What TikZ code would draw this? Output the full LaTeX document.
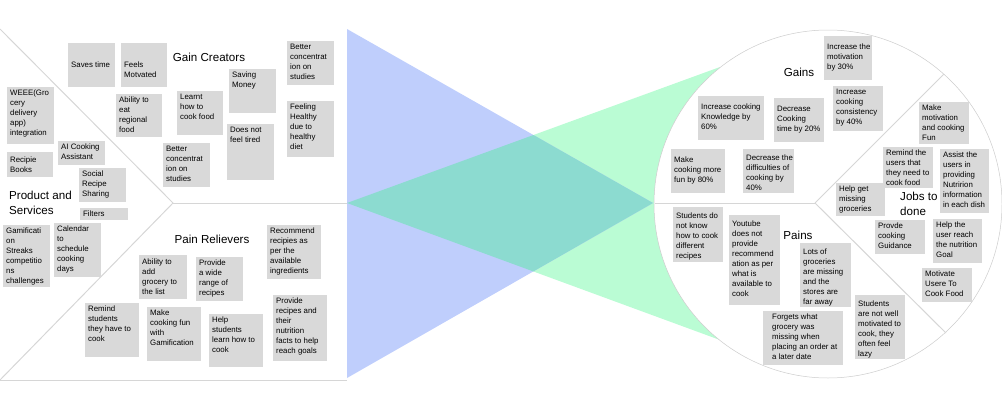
\documentclass[tikz,border=0pt]{standalone}
\usepackage{fontspec}
\setmainfont{Liberation Sans}
\usepackage{tikz}
\usetikzlibrary{positioning}
\definecolor{notegray}{HTML}{D9D9D9}
\definecolor{rulegray}{HTML}{D6D6D6}
\definecolor{vpblue}{HTML}{BFCEFC}
\definecolor{vpgreen}{HTML}{BAFCD4}
\definecolor{vpteal}{HTML}{8CDBD0}

\tikzset{
  notetext/.style={anchor=north west, align=left, inner sep=3pt,
    font=\fontsize{7.85}{10}\selectfont},
  heading/.style={font=\fontsize{11.6}{15}\selectfont, align=left},
  divider/.style={rulegray, line width=1pt},
}
% sticky note: [text options]{name}{x1}{y1}{x2}{y2}{text}
\newcommand{\sticky}[7][]{%
  \fill[notegray] (#3,#4) rectangle (#5,#6);
  \node[notetext,#1] (#2) at (#3,#4) {#7};}

\begin{document}
\begin{tikzpicture}[x=1pt, y=-1pt]
        \useasboundingbox (0,0) rectangle (1002,407);
        % Fit triangles
        \coordinate (btop) at (347,29);
        \coordinate (bbot) at (347,378);
        \coordinate (btip) at (653,203);
        \coordinate (gtip) at (347,203);
        \coordinate (gtop) at (720,67);
        \coordinate (gbot) at (720,340);
        \fill[vpgreen] (gtip) -- (gtop) -- (gbot) -- cycle;
        \fill[vpblue] (btop) -- (btip) -- (bbot) -- cycle;
        \fill[vpteal] (gtip)
          -- (intersection of btop--btip and gtip--gtop)
          -- (btip)
          -- (intersection of bbot--btip and gtip--gbot) -- cycle;
        % Customer profile circle
        \draw[gray!40, line width=0.5pt, fill=white] (828,204) circle[radius=174pt];
        \draw[divider] (655,203) -- (815,203);
        \draw[divider] (815,203) -- (944,74);
        \draw[divider] (815,203) -- (946,333);
        % Value map square
        \draw[divider] (0,29) -- (173,203) -- (0,380);
        \draw[divider] (173,203) -- (347,203);
        \draw[divider] (0,380) -- (347,380);
        % Headings
        \node[heading] (gaincreators) at (209,57) {Gain Creators};
        \node[heading] (painrelievers) at (212,239) {Pain Relievers};
        \node[heading, anchor=west, inner sep=0pt] (products) at (9,203) {Product and\\Services};
        \node[heading] (gains) at (799,72) {Gains};
        \node[heading] (pains) at (798,235) {Pains};
        % Gain creators
        \sticky[yshift=-16]{savestime}{68}{43}{115}{87}{Saves time}
        \sticky[yshift=-16]{motivated}{121}{43}{167}{87}{Feels\\Motvated}
        \sticky{concentrateA}{287}{41}{334}{85}{Better\\concentrat\\ion on\\studies}
        \sticky{savemoney}{229}{69}{276}{113}{Saving\\Money}
        \sticky{regional}{116}{94}{162}{137}{Ability to\\eat\\regional\\food}
        \sticky{learnt}{177}{91}{223}{135}{Learnt\\how to\\cook food}
        \sticky{nottired}{227}{124}{274}{180}{Does not\\feel tired}
        \sticky{healthy}{287}{101}{334}{157}{Feeling\\Healthy\\due to\\healthy\\diet}
        \sticky{concentrateB}{163}{143}{210}{187}{Better\\concentrat\\ion on\\studies}
        % Products and services
        \sticky{weee}{7}{87}{54}{144}{WEEE(Gro\\cery\\delivery\\app)\\integration}
        \sticky{aiassist}{58}{141}{105}{165}{AI Cooking\\Assistant}
        \sticky[yshift=-1.5]{books}{7}{152}{53}{177}{Recipie\\Books}
        \sticky{social}{79}{168}{126}{202}{Social\\Recipe\\Sharing}
        \sticky{filters}{80}{208}{128}{220}{Filters}
        \sticky{gamify}{3}{225}{50}{287}{Gamificati\\on\\Streaks\\competitio\\ns\\challenges}
        \sticky{calendar}{54}{223}{101}{277}{Calendar\\to\\schedule\\cooking\\days}
        % Pain relievers
        \sticky{recommend}{267}{225}{321}{279}{Recommend\\recipies as\\per the\\available\\ingredients}
        \sticky[yshift=-1]{addgrocery}{139}{255}{187}{299}{Ability to\\add\\grocery to\\the list}
        \sticky{widerange}{196}{257}{243}{301}{Provide\\a wide\\range of\\recipes}
        \sticky{remind}{85}{303}{139}{357}{Remind\\students\\they have to\\cook}
        \sticky{gamecook}{147}{307}{201}{361}{Make\\cooking fun\\with\\Gamification}
        \sticky{helplearn}{209}{314}{263}{367}{Help\\students\\learn how to\\cook}
        \sticky{nutrition}{273}{295}{327}{361}{Provide\\recipes and\\their\\nutrition\\facts to help\\reach goals}
        % Gains
        \sticky[yshift=-5]{motivation}{824}{36}{872}{80}{Increase the\\motivation\\by 30\%}
        \sticky[yshift=-5]{knowledge}{698}{96}{764}{140}{Increase cooking\\Knowledge by\\60\%}
        \sticky[yshift=-5]{cooktime}{774}{98}{824}{142}{Decrease\\Cooking\\time by 20\%}
        \sticky{consistency}{833}{86}{883}{131}{Increase\\cooking\\consistency\\by 40\%}
        \sticky[yshift=-5]{morefun}{671}{149}{725}{193}{Make\\cooking more\\fun by 80\%}
        \sticky[yshift=-3]{difficulty}{743}{149}{794}{193}{Decrease the\\difficulties of\\cooking by\\40\%}
        % Jobs to be done
        \sticky{funjob}{919}{102}{969}{144}{Make\\motivation\\and cooking\\Fun}
        \sticky{remindjob}{883}{147}{933}{188}{Remind the\\users that\\they need to\\cook food}
        \sticky{assistjob}{940}{149}{989}{213}{Assist the\\users in\\providing\\Nutririon\\information\\in each dish}
        \sticky{missingjob}{836}{183}{885}{216}{Help get\\missing\\groceries}
        \sticky{guidejob}{875}{220}{925}{254}{Provde\\cooking\\Guidance}
        \sticky{goaljob}{933}{219}{982}{263}{Help the\\user reach\\the nutrition\\Goal}
        \sticky{motivatejob}{922}{268}{972}{302}{Motivate\\Usere To\\Cook Food}
        \node[heading, anchor=west, inner sep=0pt] (jobs) at (900,204) {Jobs to\\done};
        % Pains
        \sticky[yshift=-3]{noknow}{673}{207}{723}{262}{Students do\\not know\\how to cook\\different\\recipes}
        \sticky[yshift=-3]{youtube}{729}{215}{780}{305}{Youtube\\does not\\provide\\recommend\\ation as per\\what is\\available to\\cook}
        \sticky[yshift=-3]{farstores}{800}{243}{851}{307}{Lots of\\groceries\\are missing\\and the\\stores are\\far away}
        \sticky[xshift=6]{forgets}{763}{311}{843}{365}{Forgets what\\grocery was\\missing when\\placing an order at\\a later date}
        \sticky[yshift=-3]{lazy}{855}{295}{905}{359}{Students\\are not well\\motivated to\\cook, they\\often feel\\lazy}
      \end{tikzpicture}
\end{document}
